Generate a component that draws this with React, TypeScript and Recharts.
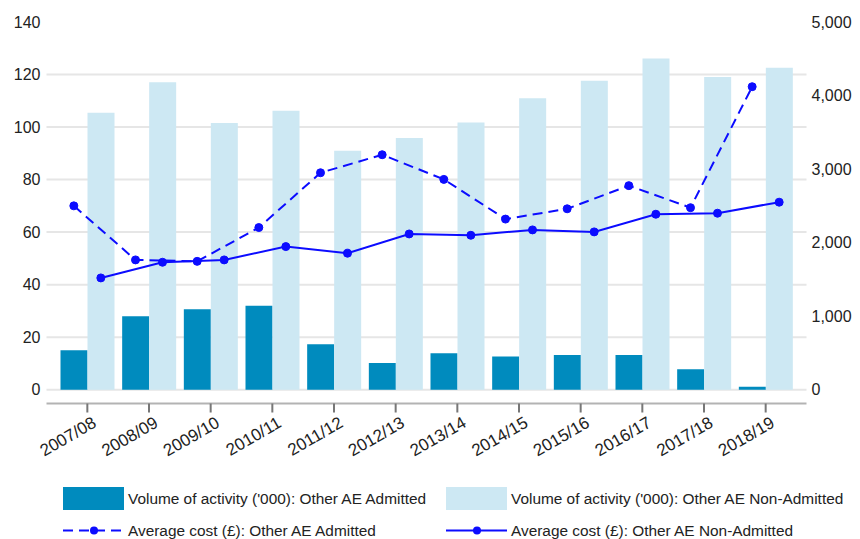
import React from "react";
import {
  ComposedChart,
  Bar,
  Line,
  XAxis,
  YAxis,
  CartesianGrid,
} from "recharts";

const years = [
  "2007/08",
  "2008/09",
  "2009/10",
  "2010/11",
  "2011/12",
  "2012/13",
  "2013/14",
  "2014/15",
  "2015/16",
  "2016/17",
  "2017/18",
  "2018/19",
];

// volume of activity ('000)
const admittedVolume = [15, 28, 30.6, 32, 17.3, 10.2, 13.9, 12.6, 13.2, 13.2, 7.8, 1.1];
const nonAdmittedVolume = [105.4, 117.1, 101.5, 106.2, 91, 95.8, 101.7, 111, 117.6, 126.1, 119.1, 122.6];

// average cost (£)
const admittedCost = [2500, 1765, 1745, 2205, 2950, 3195, 2860, 2320, 2460, 2775, 2475, 4120];
const nonAdmittedCost = [1520, 1733, 1765, 1946, 1856, 2118, 2100, 2173, 2146, 2386, 2400, 2550];

const volumeTicks = [0, 20, 40, 60, 80, 100, 120, 140];
const costTicks = [0, 1000, 2000, 3000, 4000, 5000];

const DARK = "#008bbe";
const LIGHT = "#cde8f3";
const LINE = "#0c0cff";
const FONT = "'Liberation Sans', Arial, sans-serif";

const W = 860;
const H = 539;
const TOP = 22;
const PLOT_BOTTOM = 403.5;
const ZERO_GAP = 13.8; // space between the 0 gridline and the x axis line
const BAR = 27;
const CAT_W = (760 - 20) / years.length;
const SHIFT = BAR / 2 / CAT_W; // lines sit on their own bar

const plotH = PLOT_BOTTOM - TOP;
const volMin = -(140 * ZERO_GAP) / (plotH - ZERO_GAP);
const costMin = -(5000 * ZERO_GAP) / (plotH - ZERO_GAP);

const volumeData = years.map((year, i) => ({
  year,
  admitted: admittedVolume[i],
  nonAdmitted: nonAdmittedVolume[i],
}));
const admittedCostPts = years.map((year, i) => ({ pos: i - SHIFT, cost: admittedCost[i] }));
const nonAdmittedCostPts = years.map((year, i) => ({ pos: i + SHIFT, cost: nonAdmittedCost[i] }));

const legendItems = [
  { name: "Volume of activity ('000): Other AE Admitted", kind: "bar", color: DARK, dash: "", left: 63, top: 487 },
  { name: "Volume of activity ('000): Other AE Non-Admitted", kind: "bar", color: LIGHT, dash: "", left: 446, top: 487 },
  { name: "Average cost (£): Other AE Admitted", kind: "line", color: LINE, dash: "10 6", left: 63, top: 519 },
  { name: "Average cost (£): Other AE Non-Admitted", kind: "line", color: LINE, dash: "", left: 446, top: 519 },
];

const XTick = (props: any) => {
  const { x, y, payload } = props;
  return (
    <g transform={`translate(${x + 4},${y})`}>
      <text
        x={0}
        y={0}
        dy="0.72em"
        textAnchor="end"
        transform="rotate(-30)"
        fill="#222"
        fontSize={17}
        fontFamily={FONT}
      >
        {payload.value}
      </text>
    </g>
  );
};

function Legend() {
  return (
    <>
      {legendItems.map((item) => (
        <div
          key={item.name}
          style={{
            position: "absolute",
            left: item.left,
            top: item.top,
            height: 23,
            display: "flex",
            alignItems: "center",
            fontFamily: FONT,
            fontSize: 15.4,
            color: "#222",
            whiteSpace: "nowrap",
          }}
        >
          <svg width={62} height={23} style={{ marginRight: 3 }}>
            {item.kind === "bar" ? (
              <rect x={0} y={0} width={61} height={23} fill={item.color} />
            ) : (
              <>
                <line
                  x1={0}
                  x2={61}
                  y1={11.5}
                  y2={11.5}
                  stroke={item.color}
                  strokeWidth={2}
                  strokeDasharray={item.dash}
                />
                <circle cx={31} cy={11.5} r={4} fill={item.color} />
              </>
            )}
          </svg>
          {item.name}
        </div>
      ))}
    </>
  );
}

export default function App() {
  return (
    <div style={{ position: "absolute", left: 0, top: 0, width: W, height: H, background: "#fff" }}>
      <ComposedChart
        width={W}
        height={H}
        data={volumeData}
        margin={{ top: TOP, right: 0, bottom: 0, left: 0 }}
        barGap={0}
      >
        <CartesianGrid
          yAxisId="vol"
          vertical={false}
          horizontalValues={[0, 20, 40, 60, 80, 100, 120]}
          stroke="#e6e6e6"
          strokeWidth={2}
        />
        <XAxis
          dataKey="year"
          height={H - PLOT_BOTTOM}
          padding={{ left: 10, right: 10 }}
          interval={0}
          tickSize={9}
          tickMargin={3}
          axisLine={{ stroke: "#b3b3b3", strokeWidth: 2 }}
          tickLine={{ stroke: "#777", strokeWidth: 2 }}
          tick={<XTick />}
        />
        <XAxis
          xAxisId="pts"
          dataKey="pos"
          type="number"
          domain={[-0.5, years.length - 0.5]}
          allowDataOverflow
          padding={{ left: 10, right: 10 }}
          hide
        />
        <YAxis
          yAxisId="vol"
          width={46.5}
          domain={[volMin, 140]}
          ticks={volumeTicks}
          allowDataOverflow
          axisLine={false}
          tickLine={false}
          tickSize={0}
          tickMargin={6}
          tick={{ fill: "#222", fontSize: 16, fontFamily: FONT }}
        />
        <YAxis
          yAxisId="cost"
          orientation="right"
          width={53.5}
          domain={[costMin, 5000]}
          ticks={costTicks}
          allowDataOverflow
          axisLine={false}
          tickLine={false}
          tickSize={0}
          tickMargin={5}
          tickFormatter={(v: number) => v.toLocaleString("en-US")}
          tick={{ fill: "#222", fontSize: 16, fontFamily: FONT, textAnchor: "start" }}
        />
        <Bar yAxisId="vol" dataKey="admitted" fill={DARK} barSize={BAR} isAnimationActive={false} />
        <Bar yAxisId="vol" dataKey="nonAdmitted" fill={LIGHT} barSize={BAR} isAnimationActive={false} />
        <Line
          xAxisId="pts"
          yAxisId="cost"
          data={admittedCostPts}
          dataKey="cost"
          stroke={LINE}
          strokeWidth={2}
          strokeDasharray="10 6"
          dot={{ r: 4, fill: LINE, stroke: LINE, strokeWidth: 1, strokeDasharray: "" }}
          isAnimationActive={false}
        />
        <Line
          xAxisId="pts"
          yAxisId="cost"
          data={nonAdmittedCostPts}
          dataKey="cost"
          stroke={LINE}
          strokeWidth={2}
          dot={{ r: 4, fill: LINE, stroke: LINE, strokeWidth: 1 }}
          isAnimationActive={false}
        />
      </ComposedChart>
      <Legend />
    </div>
  );
}
